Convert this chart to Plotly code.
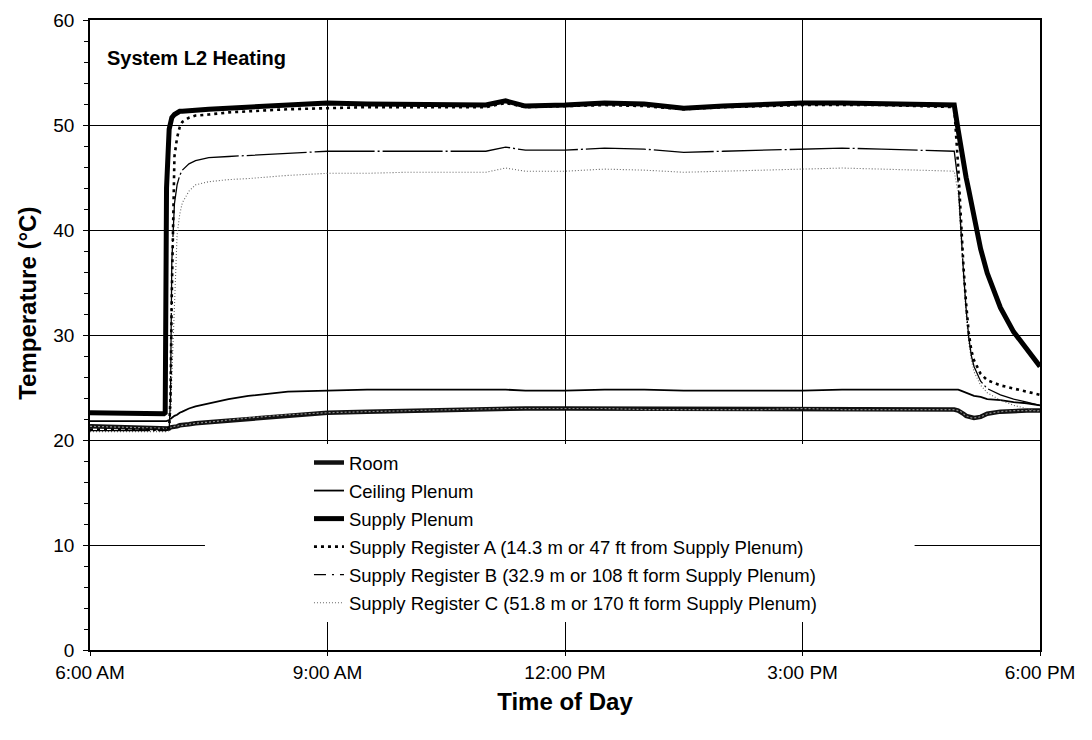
import plotly.graph_objects as go
import pandas as pd

# ---- data ----
times = ["06:00","06:30","06:56","06:57","06:58","07:00","07:01","07:02","07:04","07:06",
         "07:08","07:10","07:15","07:20","07:30","07:45","08:00","08:30","09:00","09:30",
         "10:00","10:30","11:00","11:15","11:30","12:00","12:30","13:00","13:30","14:00",
         "14:30","15:00","15:30","16:00","16:30","16:55","16:58","17:00","17:02","17:04",
         "17:06","17:08","17:10","17:15","17:20","17:30","17:40","17:50","18:00"]

room = [21.3,21.2,21.1,21.1,21.1,21.1,21.2,21.2,21.3,21.3,
        21.4,21.4,21.5,21.6,21.7,21.9,22.1,22.4,22.6,22.7,
        22.8,22.9,23.0,23.0,23.0,23.0,23.0,22.9,22.9,22.9,
        22.9,23.0,22.9,22.9,22.9,22.9,22.8,22.7,22.5,22.3,
        22.2,22.1,22.1,22.2,22.5,22.7,22.8,22.8,22.8]

ceiling_plenum = [21.8,21.8,21.8,21.8,21.8,21.9,22.0,22.1,22.3,22.4,
                  22.6,22.7,23.0,23.2,23.5,23.9,24.2,24.6,24.7,24.8,
                  24.8,24.8,24.8,24.8,24.7,24.7,24.8,24.8,24.7,24.7,
                  24.7,24.7,24.8,24.8,24.8,24.8,24.8,24.7,24.6,24.5,
                  24.4,24.3,24.2,24.1,23.9,23.8,23.6,23.5,23.3]

supply_plenum = [22.6,22.5,22.5,22.6,44.0,49.6,50.3,50.7,51.0,51.2,
                 51.3,51.3,51.4,51.4,51.5,51.6,51.7,51.9,52.1,52.0,
                 52.0,51.9,51.9,52.3,51.8,51.9,52.1,52.0,51.6,51.8,
                 52.0,52.1,52.1,52.0,52.0,51.9,49.5,47.8,46.3,45.0,
                 43.8,42.6,41.2,38.2,35.9,32.6,30.3,28.6,27.0]

register_a = [21.0,21.0,21.0,21.0,21.1,21.2,24.0,34.0,47.0,48.8,
              49.8,50.3,50.7,50.9,51.0,51.2,51.3,51.5,51.6,51.7,
              51.7,51.7,51.7,52.1,51.7,51.8,51.9,51.8,51.5,51.7,
              51.8,51.9,51.9,51.9,51.8,51.7,46.0,40.5,36.5,33.0,
              30.2,28.5,27.6,26.3,25.7,25.2,24.9,24.6,24.3]

register_b = [20.9,20.9,20.9,20.9,20.9,21.0,24.0,37.0,42.5,44.3,
              45.2,45.7,46.3,46.6,46.9,47.0,47.1,47.3,47.5,47.5,
              47.5,47.5,47.5,47.9,47.6,47.6,47.8,47.7,47.4,47.5,
              47.6,47.7,47.8,47.7,47.6,47.5,44.5,40.0,36.0,32.5,
              29.8,28.0,27.0,25.6,24.9,24.3,23.9,23.6,23.3]

register_c = [20.8,20.8,20.8,20.8,20.8,20.9,22.0,26.0,33.0,39.5,
              41.5,42.6,43.7,44.3,44.6,44.8,44.9,45.2,45.4,45.4,
              45.5,45.5,45.5,45.9,45.6,45.6,45.8,45.7,45.5,45.6,
              45.7,45.8,45.9,45.8,45.7,45.6,43.5,39.5,35.5,32.0,
              29.3,27.6,26.5,25.2,24.5,23.8,23.3,23.0,22.7]

y_ticks = [0, 10, 20, 30, 40, 50, 60]
x_range = ["06:00", "18:00"]
chart_title = "System L2 Heating"
x_title = "Time of Day"
y_title = "Temperature (°C)"
names = ["Room", "Ceiling Plenum", "Supply Plenum",
         "Supply Register A (14.3 m or 47 ft from Supply Plenum)",
         "Supply Register B (32.9 m or 108 ft form Supply Plenum)",
         "Supply Register C (51.8 m or 170 ft form Supply Plenum)"]

# ---- figure ----
x = pd.to_datetime(["2000-01-01 " + t for t in times])
xr = pd.to_datetime(["2000-01-01 " + t for t in x_range])

FONT = "Arial, 'Liberation Sans', sans-serif"
fig = go.Figure()

fig.add_trace(go.Scatter(x=x, y=room, mode="lines", name=names[0], legendgroup="g1",
                         legendrank=1, line=dict(color="#111111", width=4.5)))
fig.add_trace(go.Scatter(x=x, y=room, mode="lines", name=names[0], legendgroup="g1",
                         showlegend=False, hoverinfo="skip",
                         line=dict(color="#8a8a8a", width=1.2, dash="2px,2px")))
fig.add_trace(go.Scatter(x=x, y=ceiling_plenum, mode="lines", name=names[1],
                         legendgroup="g2", legendrank=2,
                         line=dict(color="black", width=1.8)))
fig.add_trace(go.Scatter(x=x, y=register_c, mode="lines", name=names[5],
                         legendgroup="g6", legendrank=6,
                         line=dict(color="#666666", width=1.1, dash="1px,2px")))
# register B: dense data makes the plotted line look solid; legend sample shows dash pattern
fig.add_trace(go.Scatter(x=x, y=register_b, mode="lines", name=names[4],
                         legendgroup="g5", showlegend=False,
                         line=dict(color="black", width=1.3, dash="60px,3px,2px,3px")))
fig.add_trace(go.Scatter(x=[None], y=[None], mode="lines", name=names[4],
                         legendgroup="g5", legendrank=5, hoverinfo="skip",
                         line=dict(color="black", width=1.3, dash="12px,6px,2px,6px,4px")))
fig.add_trace(go.Scatter(x=x, y=supply_plenum, mode="lines", name=names[2],
                         legendgroup="g3", legendrank=3,
                         line=dict(color="black", width=5)))
fig.add_trace(go.Scatter(x=x, y=register_a, mode="lines", name=names[3],
                         legendgroup="g4", legendrank=4,
                         line=dict(color="black", width=2.6, dash="3px,4px")))

fig.update_layout(
    width=1084, height=732,
    margin=dict(l=82, r=52, t=12, b=90),
    paper_bgcolor="white", plot_bgcolor="white",
    font=dict(family=FONT, color="black", size=19),
    showlegend=True,
    legend=dict(x=0.2305, y=0.327, xanchor="left", yanchor="top",
                bgcolor="white", borderwidth=0,
                font=dict(family=FONT, size=18.5, color="black"),
                traceorder="grouped", tracegroupgap=1),
    shapes=[dict(type="rect", xref="paper", yref="paper",
                 x0=0.121, x1=0.868, y0=0.075, y1=0.322,
                 fillcolor="white", line=dict(width=0), layer="above")],
    annotations=[
        dict(text="<b>" + chart_title + "</b>", xref="paper", yref="paper",
             x=0.0158, y=0.94, xanchor="left", yanchor="middle",
             showarrow=False, font=dict(family=FONT, size=20, color="black")),
        dict(text="<b>" + y_title + "</b>", xref="paper", yref="paper",
             x=-0.066, y=0.55, xanchor="center", yanchor="middle", textangle=-90,
             showarrow=False, font=dict(family=FONT, size=24, color="black")),
    ],
)

fig.update_xaxes(
    type="date", range=list(xr), dtick=3 * 3600 * 1000, tick0=xr[0],
    tickformat="%-I:%M %p", automargin=False,
    showgrid=True, gridcolor="black", gridwidth=1,
    showline=True, linecolor="black", linewidth=1.5, mirror=True,
    ticks="outside", ticklen=4, tickcolor="black",
    tickfont=dict(family=FONT, size=19),
    title=dict(text="<b>" + x_title + "</b>", font=dict(family=FONT, size=24), standoff=12),
    zeroline=False,
)
fig.update_yaxes(
    range=[0, 60], tickvals=y_ticks, automargin=False,
    showgrid=True, gridcolor="black", gridwidth=1,
    showline=True, linecolor="black", linewidth=1.5, mirror=True,
    ticks="outside", ticklen=5, tickcolor="black", ticklabelstandoff=5,
    minor=dict(dtick=2, ticks="outside", ticklen=4, tickcolor="black", showgrid=False),
    tickfont=dict(family=FONT, size=19),
    zeroline=False,
)

fig.write_html("out.html")
